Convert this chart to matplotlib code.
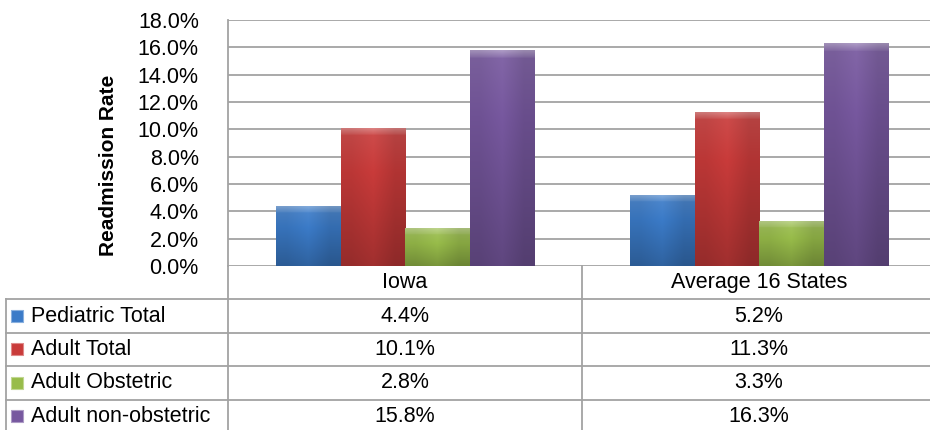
import numpy as np
import matplotlib.pyplot as plt
import matplotlib.colors as mcolors
import matplotlib.transforms as mtransforms

plt.rcParams['font.family'] = ['Liberation Sans', 'DejaVu Sans']

# data
groups = ['Iowa', 'Average 16 States']
series = ['Pediatric Total', 'Adult Total', 'Adult Obstetric', 'Adult non-obstetric']
iowa = [4.4, 10.1, 2.8, 15.8]
avg16 = [5.2, 11.3, 3.3, 16.3]
colors = ['#3b7bc8', '#c93b3a', '#98bc4a', '#77589f']
yticks = np.arange(0, 19, 2)

W, H = 930, 430
GRID = '#a3a3a3'


def shade(c, f):
    r = np.array(mcolors.to_rgb(c))
    if f >= 0:
        return tuple(r + (1 - r) * f)
    return tuple(r * (1 + f))


fig = plt.figure(figsize=(W / 100, H / 100), dpi=100)
ax = fig.add_axes([228 / W, 1 - 266 / H, (930 - 228) / W, (266 - 20) / H])
ax.set_ylim(0, 18)
cat_px = 354
ax.set_xlim(-0.5, -0.5 + (930 - 228) / cat_px)
bw = 64.5 / cat_px

vals = np.array([iowa, avg16])
px_per_unit = (266 - 20) / 18.0
for j, name in enumerate(series):
    xs = np.arange(len(groups)) + (j - 1.5) * bw
    bars = ax.bar(xs, vals[:, j], width=bw, color=colors[j],
                  edgecolor=shade(colors[j], -0.35), linewidth=0.6, zorder=3)
    for b in bars:
        h = b.get_height()
        n = 200
        band = min(7.0 / (h * px_per_unit), 0.3)
        t = np.linspace(0, 1, n)  # 0 top -> 1 bottom
        grad = np.empty((n, 3, 3))
        for k, tt in enumerate(t):
            if tt < band:
                c = shade(colors[j], 0.4 - 0.25 * tt / band)
            else:
                c = shade(colors[j], 0.08 - 0.28 * (tt - band) / (1 - band))
            grad[k, :, :] = c
        # darker side edges for the bevel look
        grad[:, 0, :] *= 0.93
        grad[:, 2, :] *= 0.88
        im = ax.imshow(grad, extent=(b.get_x(), b.get_x() + bw, 0, h),
                       aspect='auto', interpolation='bilinear', zorder=3)
        im.set_clip_path(b)

ax.set_xlim(-0.5, -0.5 + (930 - 228) / cat_px)
ax.set_ylim(0, 18)
ax.set_yticks(yticks)
ax.set_yticklabels([f'{v:.1f}%' for v in yticks], fontsize=15.5)
ax.tick_params(axis='y', length=0, pad=21)
ax.set_xticks([])
ax.yaxis.grid(True, color=GRID, linewidth=1.3)
ax.set_axisbelow(True)
for s in ['top', 'right', 'bottom']:
    ax.spines[s].set_visible(False)
ax.spines['left'].set_color(GRID)
ax.spines['left'].set_linewidth(1.3)
ax.set_ylabel('Readmission Rate', fontsize=15, fontweight='bold')
ax.yaxis.set_label_coords(-0.157, 0.41)

# data table below the plot
tab = fig.add_axes([0, 1 - 433 / H, 1, (433 - 266) / H])
tab.set_xlim(0, 1)
tab.set_ylim(0, 1)
tab.axis('off')
bt = mtransforms.blended_transform_factory(ax.transData, tab.transAxes)
rh = 1.0 / (len(series) + 1)

for r in range(1, len(series) + 1):
    tab.plot([6 / W, 1], [1 - r * rh] * 2, color=GRID, lw=1.3, clip_on=False)
tab.plot([6 / W] * 2, [0, 1 - rh], color=GRID, lw=1.3, clip_on=False)
tab.plot([228 / W] * 2, [0, 1], color=GRID, lw=1.3, clip_on=False)
tab.plot([0.5, 0.5], [0, 1], color=GRID, lw=1.3, transform=bt, clip_on=False)

for i, g in enumerate(groups):
    tab.text(i, 1 - rh / 2, g, transform=bt, ha='center', va='center', fontsize=15.5)
for j, name in enumerate(series):
    yc = 1 - (j + 1.5) * rh
    tab.scatter([17 / W], [yc], marker='s', s=75, color=colors[j],
                edgecolors=shade(colors[j], 0.4), linewidths=0.8, clip_on=False)
    tab.text(31 / W, yc, name, ha='left', va='center', fontsize=15.5)
    for i in range(len(groups)):
        tab.text(i, yc, f'{vals[i, j]:.1f}%', transform=bt,
                 ha='center', va='center', fontsize=15.5)

fig.savefig('out.png', dpi=100)
